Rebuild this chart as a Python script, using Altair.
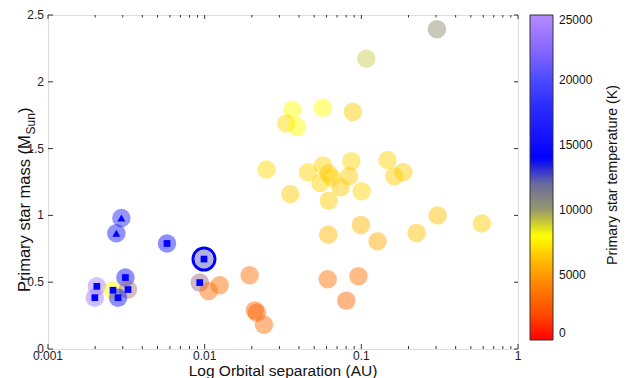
import altair as alt
import pandas as pd

# ---- data ----
sep = [0.00294, 0.00273, 0.00575, 0.0099, 0.0093, 0.00205, 0.00199, 0.0026, 0.00312, 0.00324, 0.0028,
       0.0106, 0.01247, 0.01936, 0.0209, 0.02157, 0.0239, 0.061, 0.0958, 0.0801,
       0.0363, 0.0332, 0.039, 0.0569, 0.0883, 0.0248, 0.0352, 0.0456, 0.0569, 0.0547,
       0.0618, 0.0646, 0.0863, 0.0834, 0.0738, 0.1005, 0.062, 0.147, 0.1624, 0.1854,
       0.0615, 0.0994, 0.127, 0.2255, 0.307, 0.588, 0.1076, 0.3038]
mass = [0.98, 0.867, 0.79, 0.673, 0.497, 0.469, 0.384, 0.44, 0.535, 0.445, 0.384,
        0.434, 0.477, 0.552, 0.289, 0.271, 0.181, 0.522, 0.545, 0.362,
        1.79, 1.688, 1.662, 1.806, 1.775, 1.344, 1.16, 1.323, 1.374, 1.243,
        1.313, 1.283, 1.406, 1.293, 1.21, 1.18, 1.11, 1.414, 1.293, 1.323,
        0.856, 0.929, 0.806, 0.869, 0.999, 0.939, 2.173, 2.393]
temp = [17000, 15500, 15000, 12500, 11500, 24000, 23500, 8000, 15000, 11000, 15000,
        3300, 3300, 3300, 2900, 2900, 3200, 3500, 3500, 3000,
        8000, 7000, 8000, 8000, 6500, 7000, 6500, 6800, 6800, 6800,
        6500, 6800, 6800, 6600, 6600, 6800, 6500, 6800, 6600, 6600,
        6000, 6000, 5600, 6300, 6300, 6600, 9000, 10300]
marker = ["triangle", "triangle"] + ["square"] * 9 + ["none"] * 37
ring = [False, False, False, True] + [False] * 44

x_major = [0.001, 0.01, 0.1, 1]
x_major_labels = ["0.001", "0.01", "0.1", "1"]
x_minor = [0.002, 0.003, 0.004, 0.005, 0.006, 0.007, 0.008, 0.009,
           0.02, 0.03, 0.04, 0.05, 0.06, 0.07, 0.08, 0.09,
           0.2, 0.3, 0.4, 0.5, 0.6, 0.7, 0.8, 0.9]
y_ticks = [0, 0.5, 1, 1.5, 2, 2.5]
y_tick_labels = ["0", "0.5", "1", "1.5", "2", "2.5"]
cbar_ticks = [0, 5000, 10000, 15000, 20000, 25000]

temp_domain = [0, 2500, 5000, 8000, 10300, 12000, 14000, 17500, 20000, 25000]
temp_colors = ["#ff0000", "#ff5500", "#ff9400", "#ffff00", "#8a8a6e", "#6a6aa0",
               "#0000ff", "#2222ff", "#4a4aff", "#b48cff"]

df = pd.DataFrame({"sep": sep, "mass": mass, "temp": temp, "marker": marker, "ring": ring})

W, H = 470, 334
FONT = "Liberation Sans"

xscale = alt.Scale(type="log", domain=[0.001, 1], nice=False)
yscale = alt.Scale(domain=[0, 2.5], nice=False)

X = alt.X("sep:Q", scale=xscale, axis=None)
Y = alt.Y("mass:Q", scale=yscale, axis=None)

base = alt.Chart(df)

circles = base.mark_circle(size=342, fillOpacity=0.47, strokeWidth=0).encode(
    x=X, y=Y,
    color=alt.Color("temp:Q", title=None,
                    scale=alt.Scale(domain=temp_domain, range=temp_colors),
                    legend=alt.Legend(orient="none", legendX=482, legendY=0, direction="vertical",
                                      gradientLength=325, gradientThickness=23, format="d",
                                      values=cbar_ticks, labelFontSize=12, labelFont=FONT,
                                      labelColor="#111", labelOffset=6, labelBaseline="middle",
                                      labelOverlap=False, gradientStrokeColor="#333",
                                      gradientStrokeWidth=1, padding=0)),
)

squares = base.transform_filter(alt.datum.marker == "square").mark_point(
    shape="square", filled=True, color="#0000ff", size=45, opacity=1).encode(x=X, y=Y)

triangles = base.transform_filter(alt.datum.marker == "triangle").mark_point(
    shape="triangle-up", filled=True, color="#0000ff", size=64, opacity=1).encode(x=X, y=Y)

rings = base.transform_filter(alt.datum.ring == True).mark_point(
    shape="circle", filled=False, color="#0000ff", size=484, strokeWidth=3, opacity=1).encode(x=X, y=Y)

tick_col = "#333"
xmaj = pd.DataFrame({"v": x_major, "lbl": x_major_labels})
xmin = pd.DataFrame({"v": x_minor})
yt = pd.DataFrame({"v": y_ticks, "lbl": y_tick_labels})

def xrule(d, y1, y2):
    return alt.Chart(d).mark_rule(color=tick_col, strokeWidth=1).encode(
        x=alt.X("v:Q", scale=xscale, axis=None), y=alt.value(y1), y2=alt.value(y2))

def yrule(d, x1, x2):
    return alt.Chart(d).mark_rule(color=tick_col, strokeWidth=1).encode(
        y=alt.Y("v:Q", scale=yscale, axis=None), x=alt.value(x1), x2=alt.value(x2))

ticks = [xrule(xmaj, H, H - 5), xrule(xmin, H, H - 3),
         xrule(xmaj, 0, 4), xrule(xmin, 0, 2.5),
         yrule(yt, 0, 5), yrule(yt, W, W - 4)]

xlabels = alt.Chart(xmaj).mark_text(font=FONT, fontSize=12, color="#222", align="center",
                                    baseline="top").encode(
    x=alt.X("v:Q", scale=xscale, axis=None), y=alt.value(H + 2), text="lbl:N")
ylabels = alt.Chart(yt).mark_text(font=FONT, fontSize=12, color="#222", align="right",
                                  baseline="middle").encode(
    y=alt.Y("v:Q", scale=yscale, axis=None), x=alt.value(-4), text="lbl:N")

def label(txt, x, y, size, angle=0, align="center", baseline="alphabetic"):
    return alt.Chart(pd.DataFrame({"t": [txt]})).mark_text(
        font=FONT, fontSize=size, color="#111", angle=angle, align=align, baseline=baseline).encode(
        text="t:N", x=alt.value(x), y=alt.value(y))

xtitle = label("Log Orbital separation (AU)", W / 2, 360.5, 15.5)
yt1 = label("Primary star mass (M", -18, 277, 16.5, angle=270, align="left")
yt2 = label("Sun", -13.5, 277 - 157.5, 12, angle=270, align="left")
yt3 = label(")", -18, 277 - 157.5 - 21.5, 16.5, angle=270, align="left")
ctitle = label("Primary star temperature (K)", 569, 160, 14.2, angle=270)

chart = alt.layer(circles, squares, triangles, rings, *ticks, xlabels, ylabels,
                  xtitle, yt1, yt2, yt3, ctitle).properties(
    width=W, height=H,
    autosize=alt.AutoSizeParams(type="none"),
    padding={"left": 48, "top": 15, "right": 114, "bottom": 29},
).configure_view(stroke="#222", strokeWidth=1).configure(background="white")

chart.save("out.html", embed_options={"renderer": "svg", "actions": False})
